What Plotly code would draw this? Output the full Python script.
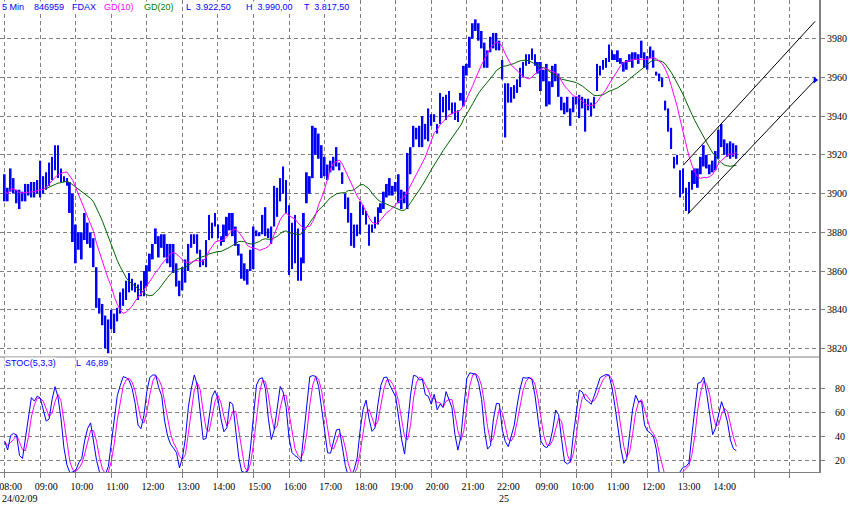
import plotly.graph_objects as go
import pandas as pd

# ---------------- data (5-minute FDAX bars) ----------------
high = [
    3910, 3903, 3913, 3908, 3902, 3902, 3901, 3905, 3905, 3906, 3906, 3907,
    3917, 3909, 3911, 3916, 3919, 3925, 3925, 3913, 3909, 3908, 3906, 3900,
    3884, 3880, 3880, 3890, 3885, 3880, 3877, 3862, 3846, 3843, 3837, 3835,
    3840, 3838, 3841, 3849, 3851, 3855, 3859, 3856, 3854, 3853, 3855, 3860,
    3863, 3869, 3874, 3882, 3878, 3879, 3879, 3874, 3874, 3874, 3864, 3855,
    3862, 3866, 3874, 3879, 3879, 3879, 3871, 3866, 3876, 3889, 3885, 3890,
    3884, 3878, 3884, 3888, 3890, 3890, 3883, 3874, 3869, 3864, 3861, 3871,
    3883, 3881, 3880, 3889, 3893, 3882, 3883, 3904, 3903, 3908, 3914, 3907,
    3894, 3885, 3889, 3882, 3867, 3890, 3911, 3909, 3935, 3934, 3931, 3925,
    3919, 3915, 3917, 3919, 3924, 3916, 3911, 3900, 3898, 3890, 3884, 3884,
    3896, 3894, 3891, 3884, 3884, 3888, 3893, 3895, 3901, 3905, 3908, 3904,
    3906, 3910, 3902, 3901, 3921, 3924, 3935, 3934, 3935, 3940, 3936, 3944,
    3941, 3941, 3936, 3952, 3950, 3951, 3953, 3947, 3947, 3943, 3952, 3966,
    3967, 3981, 3988, 3990, 3988, 3984, 3978, 3974, 3981, 3983, 3983, 3979,
    3969,
    3957, 3957, 3955, 3956, 3959, 3965, 3968, 3972, 3972, 3975, 3972, 3968,
    3968, 3964, 3967, 3958, 3966, 3967, 3962, 3950, 3947, 3950, 3944, 3950,
    3950, 3951, 3950, 3949, 3949, 3947, 3950, 3967, 3966, 3969, 3970, 3977,
    3974, 3972, 3974, 3970, 3968, 3969, 3972, 3973, 3973, 3972, 3979, 3973,
    3971, 3976, 3974, 3963, 3962, 3960, 3948, 3944, 3934, 3919, 3920, 3912,
    3913, 3903, 3906, 3912, 3913, 3913, 3919, 3925, 3920, 3915, 3917, 3922,
    3933, 3936, 3928, 3926, 3927, 3926, 3925,
]
low = [
    3896, 3896, 3901, 3900, 3895, 3892, 3896, 3896, 3899, 3898, 3898, 3900,
    3898, 3900, 3902, 3904, 3907, 3912, 3908, 3906, 3906, 3904, 3890, 3875,
    3864, 3871, 3866, 3876, 3874, 3872, 3862, 3841, 3838, 3832, 3820, 3817.5,
    3830, 3828, 3834, 3838, 3842, 3845, 3849, 3850, 3849, 3845, 3847, 3847,
    3852, 3860, 3866, 3874, 3867, 3872, 3867, 3864, 3862, 3859, 3852, 3847,
    3850, 3854, 3860, 3872, 3874, 3869, 3862, 3863, 3862, 3876, 3877, 3883,
    3877, 3873, 3875, 3878, 3881, 3878, 3873, 3868, 3856, 3855, 3853, 3860,
    3861, 3878, 3878, 3879, 3878, 3877, 3874, 3883, 3888, 3896, 3900, 3890,
    3858, 3861, 3864, 3855, 3855, 3864, 3895, 3900, 3908, 3920, 3918, 3908,
    3909, 3907, 3911, 3912, 3914, 3912, 3905, 3892, 3885, 3873, 3872, 3878,
    3879, 3889, 3884, 3873, 3880, 3882, 3884, 3890, 3892, 3898, 3899, 3899,
    3901, 3895, 3892, 3895, 3892, 3910, 3924, 3928, 3924, 3924, 3928, 3927,
    3935, 3937, 3931, 3936, 3942, 3938, 3943, 3941, 3938, 3937, 3948, 3945,
    3961, 3965, 3980, 3984, 3979, 3975, 3965, 3965, 3973, 3975, 3974, 3974,
    3959,
    3929, 3947, 3947, 3949, 3952, 3955, 3960, 3966, 3967, 3969, 3966, 3962,
    3953, 3958, 3945, 3946, 3955, 3958, 3950, 3943, 3941, 3942, 3935, 3942,
    3946, 3939, 3944, 3932, 3943, 3940, 3944, 3953, 3961, 3964, 3965, 3968,
    3969, 3969, 3968, 3967, 3963, 3964, 3968, 3965, 3969, 3967, 3970, 3965,
    3964, 3970, 3965, 3961, 3958, 3955, 3943, 3932, 3923, 3913, 3915, 3898,
    3900, 3891, 3890, 3902, 3905, 3903, 3910, 3914, 3913, 3910, 3911, 3912,
    3918, 3924, 3920, 3919, 3918, 3919, 3918,
]
close = [
    3901, 3899, 3907, 3903, 3898, 3895, 3899, 3903, 3901, 3903, 3902, 3905,
    3912, 3904, 3908, 3913, 3915, 3921, 3914, 3910, 3908, 3906, 3893, 3880,
    3870, 3876, 3874, 3885, 3879, 3875, 3866, 3845, 3842, 3835, 3826, 3830,
    3836, 3834, 3839, 3846, 3848, 3852, 3855, 3852, 3851, 3849, 3853, 3858,
    3861, 3867, 3872, 3878, 3870, 3876, 3870, 3868, 3871, 3862, 3855, 3851,
    3858, 3863, 3872, 3875, 3877, 3871, 3865, 3865, 3874, 3884, 3880, 3886,
    3879, 3876, 3882, 3885, 3887, 3881, 3875, 3870, 3860, 3858, 3857, 3868,
    3879, 3880, 3879, 3886, 3881, 3879, 3881, 3900, 3894, 3905, 3903, 3892,
    3866, 3878, 3870, 3860, 3865, 3886, 3905, 3906, 3928, 3926, 3921, 3912,
    3915, 3912, 3915, 3917, 3915, 3913, 3906, 3894, 3888, 3876, 3881, 3882,
    3892, 3890, 3886, 3880, 3883, 3887, 3891, 3893, 3898, 3903, 3901, 3903,
    3904, 3898, 3895, 3899, 3918, 3922, 3930, 3930, 3928, 3937, 3932, 3940,
    3938, 3939, 3934, 3948, 3945, 3948, 3945, 3944, 3940, 3941, 3950, 3963,
    3965, 3979, 3983, 3986, 3982, 3977, 3968, 3972, 3978, 3980, 3977, 3975,
    3962,
    3950, 3952, 3950, 3954, 3957, 3962, 3966, 3970, 3969, 3972, 3968, 3965,
    3960, 3962, 3950, 3955, 3962, 3960, 3952, 3946, 3944, 3948, 3940, 3947,
    3948, 3946, 3947, 3945, 3944, 3945, 3948, 3963, 3964, 3967, 3968, 3974,
    3971, 3970, 3969, 3968, 3964, 3968, 3971, 3970, 3971, 3969, 3975, 3968,
    3970, 3974, 3966, 3962, 3959, 3956, 3944, 3934, 3925, 3916, 3916, 3906,
    3904, 3894, 3898, 3910, 3907, 3911, 3916, 3922, 3914, 3912, 3915, 3920,
    3928, 3926, 3922, 3924, 3921, 3922, 3922.5,
]

# hour ticks (bar index where each hour starts) and their labels
tick_index = [0, 12, 24, 36, 48, 60, 72, 84, 96, 108, 120, 132, 144, 156, 168,
              181, 193, 205, 217, 229, 241, 253, 265]
tick_text = ["08:00", "09:00", "10:00", "11:00", "12:00", "13:00", "14:00",
             "15:00", "16:00", "17:00", "18:00", "19:00", "20:00", "21:00",
             "22:00", "09:00", "10:00", "11:00", "12:00", "13:00", "14:00", "", ""]
date_labels = ["24/02/09", "25"]
date_index = [-1.59, 168.6]

price_ticks = [3820, 3840, 3860, 3880, 3900, 3920, 3940, 3960, 3980]
stoch_ticks = [20, 40, 60, 80]

# trend channel drawn on the chart (bar index, price)
upper_x = [229.1, 273.6]
upper_y = [3914.7, 3989.0]
lower_x = [230.6, 273.6]
lower_y = [3889.4, 3958.7]

# ---------------- derived indicators ----------------
n = len(close)
idx = list(range(n))
sc, sh, sl = pd.Series(close), pd.Series(high), pd.Series(low)
gd10 = sc.rolling(10, min_periods=1).mean()
gd20 = sc.rolling(20, min_periods=1).mean()
ll = sl.rolling(5, min_periods=1).min()
hh = sh.rolling(5, min_periods=1).max()
raw_k = 100 * (sc - ll) / (hh - ll)
stoch_k = raw_k.rolling(3, min_periods=1).mean()
stoch_d = stoch_k.rolling(3, min_periods=1).mean()
rng = [h - l for h, l in zip(high, low)]

BLUE = "#0000FF"
MAG = "#FF00FF"
GREEN = "#006400"
GRID = "#808080"

fig = go.Figure()
fig.add_trace(go.Bar(x=idx, y=rng, base=low, width=0.62,
                     marker=dict(color=BLUE, line=dict(width=0)),
                     xaxis="x2", yaxis="y"))
fig.add_trace(go.Scatter(x=idx[14:], y=gd20[14:], mode="lines",
                         line=dict(color=GREEN, width=1), xaxis="x2", yaxis="y"))
fig.add_trace(go.Scatter(x=idx, y=gd10, mode="lines",
                         line=dict(color=MAG, width=1), xaxis="x2", yaxis="y"))
fig.add_trace(go.Scatter(x=upper_x, y=upper_y, mode="lines",
                         line=dict(color="black", width=1), xaxis="x2", yaxis="y"))
fig.add_trace(go.Scatter(x=lower_x, y=lower_y, mode="lines",
                         line=dict(color="black", width=1), xaxis="x2", yaxis="y"))
fig.add_trace(go.Scatter(x=[lower_x[1]], y=[lower_y[1]], mode="markers",
                         marker=dict(symbol="triangle-right", color=BLUE, size=6),
                         xaxis="x2", yaxis="y"))
fig.add_trace(go.Scatter(x=idx, y=stoch_d, mode="lines",
                         line=dict(color=MAG, width=1), xaxis="x", yaxis="y2"))
fig.add_trace(go.Scatter(x=idx, y=stoch_k, mode="lines",
                         line=dict(color=BLUE, width=1), xaxis="x", yaxis="y2"))

PW, PH = 819, 472
split = 1 - 357 / PH
xr = [-1.59, 274.9]
tickfont = dict(family="Liberation Serif", size=10, color="black")

common_x = dict(range=xr, tickvals=tick_index, showgrid=True, gridcolor=GRID,
                griddash="4px,3px", gridwidth=1, zeroline=False)
fig.update_layout(
    width=850, height=506,
    margin=dict(l=0, r=850 - PW, t=0, b=506 - PH),
    paper_bgcolor="white", plot_bgcolor="white",
    showlegend=False, barmode="overlay",
    xaxis=dict(**common_x, domain=[0, 1], anchor="y2", ticktext=tick_text,
               ticks="outside", ticklen=5, tickcolor=GRID, showline=True,
               linecolor=GRID, linewidth=1, tickfont=tickfont, ticklabelshift=6,
               ticklabeloverflow="allow"),
    xaxis2=dict(**common_x, domain=[0, 1], anchor="y", matches="x",
                showticklabels=False, ticks=""),
    yaxis=dict(domain=[split, 1], anchor="x2", side="right",
               range=[3815.6, 4000], tickvals=price_ticks,
               ticks="outside", ticklen=4, tickcolor=GRID, showline=True,
               linecolor=GRID, linewidth=2, showgrid=True, gridcolor=GRID,
               griddash="4px,3px", gridwidth=1, zeroline=False, tickfont=tickfont),
    yaxis2=dict(domain=[0, split], anchor="x", side="right",
                range=[10.25, 106], tickvals=stoch_ticks,
                ticks="outside", ticklen=4, tickcolor=GRID, showline=True,
                linecolor=GRID, linewidth=2, showgrid=True, gridcolor=GRID,
                griddash="4px,3px", gridwidth=1, zeroline=False,
                tickfont=tickfont, ticklabelstandoff=8),
    shapes=[dict(type="line", xref="paper", yref="paper", x0=0, x1=1,
                 y0=split, y1=split, line=dict(color=GRID, width=1))],
)

hfont = "Liberation Sans"
def hdr(text, px, py, color):
    fig.add_annotation(text=text, xref="paper", yref="paper",
                       x=px / PW, y=1 - py / PH, xanchor="left", yanchor="middle",
                       showarrow=False, bgcolor="white", borderpad=0,
                       font=dict(family=hfont, size=9, color=color))

hdr("5 Min", 1, 7, BLUE)
hdr("846959", 33, 7, BLUE)
hdr("FDAX", 71, 7, BLUE)
hdr("GD(10)", 103, 7, MAG)
hdr("GD(20)", 143, 7, "#008000")
hdr("L  3.922,50", 185, 7, BLUE)
hdr("H  3.990,00", 245, 7, BLUE)
hdr("T  3.817,50", 303, 7, BLUE)
hdr("STOC(5,3,3)", 4, 363, BLUE)
hdr("L  46,89", 75, 363, BLUE)

# date row under the time labels
for t, xi in zip(date_labels, date_index):
    px = (xi - xr[0]) / (xr[1] - xr[0])
    fig.add_annotation(text=t, xref="paper", yref="paper", x=px,
                       y=1 - 498 / PH, xanchor="left" if px < 0.01 else "center",
                       yanchor="middle", showarrow=False,
                       font=dict(family="Liberation Serif", size=10, color="black"))

fig.write_html("out.html", config={"displayModeBar": False},
               post_script="document.body.style.margin='0px';document.body.style.padding='0px';")
